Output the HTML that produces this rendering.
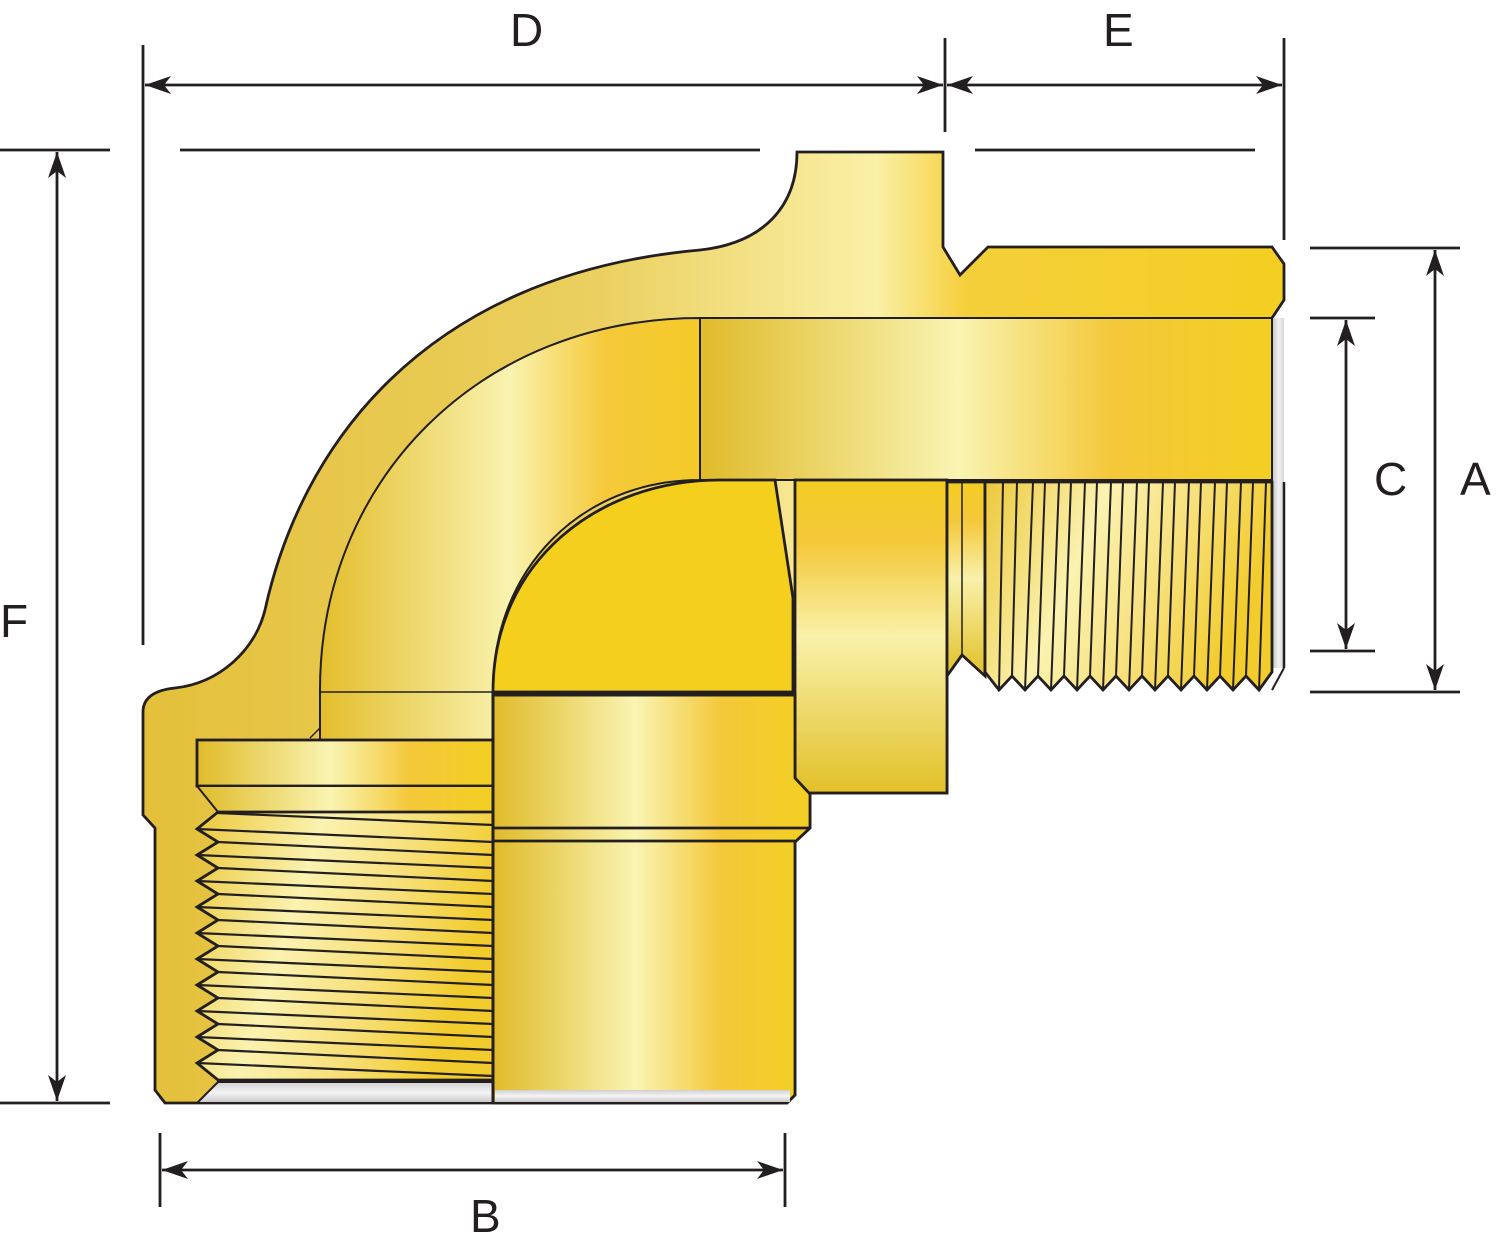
<!DOCTYPE html>
<html><head><meta charset="utf-8"><style>
html,body{margin:0;padding:0;background:#fff;}
svg{display:block;}
text{font-family:"Liberation Sans",sans-serif;font-size:46px;fill:#231f20;}
</style></head><body>
<svg width="1500" height="1246" viewBox="0 0 1500 1246" xmlns="http://www.w3.org/2000/svg">
<defs>
<linearGradient id="gx" x1="0" y1="0" x2="1" y2="0">
<stop offset="0" stop-color="#e0bb2a"/><stop offset="0.45" stop-color="#f9f4b2"/><stop offset="0.72" stop-color="#f4c83a"/><stop offset="1" stop-color="#f3cf22"/>
</linearGradient>
<linearGradient id="gbody" gradientUnits="userSpaceOnUse" x1="140" y1="0" x2="1290" y2="0">
<stop offset="0" stop-color="#e4c03a"/><stop offset="0.4" stop-color="#ebd060"/><stop offset="0.64" stop-color="#faf0a6"/><stop offset="0.72" stop-color="#f5cf3a"/><stop offset="1" stop-color="#f3cf22"/>
</linearGradient>
<linearGradient id="gelb" gradientUnits="userSpaceOnUse" x1="320" y1="0" x2="700" y2="0">
<stop offset="0" stop-color="#e3bd2c"/><stop offset="0.5" stop-color="#f9f3b0"/><stop offset="0.75" stop-color="#f5c93a"/><stop offset="1" stop-color="#f3ca28"/>
</linearGradient>
<linearGradient id="gy" x1="0" y1="0" x2="0" y2="1">
<stop offset="0" stop-color="#f4cd22"/><stop offset="0.2" stop-color="#f4c83a"/><stop offset="0.5" stop-color="#f9f1aa"/><stop offset="1" stop-color="#e2c028"/>
</linearGradient>
<linearGradient id="gth" x1="0" y1="0" x2="1" y2="0.3">
<stop offset="0" stop-color="#ecc83a"/><stop offset="0.4" stop-color="#faf2b0"/><stop offset="0.7" stop-color="#f7e07a"/><stop offset="1" stop-color="#f2cc2c"/>
</linearGradient>
<linearGradient id="ggr" x1="0" y1="0" x2="1" y2="0">
<stop offset="0" stop-color="#c8c8c8"/><stop offset="0.5" stop-color="#f2f2f2"/><stop offset="1" stop-color="#d6d6d6"/>
</linearGradient>
<linearGradient id="ggrv" x1="0" y1="0" x2="0" y2="1">
<stop offset="0" stop-color="#d0d0d0"/><stop offset="0.5" stop-color="#f4f4f4"/><stop offset="1" stop-color="#c8c8c8"/>
</linearGradient>
<marker id="ar" viewBox="0 0 26 18" refX="26" refY="9" markerWidth="26" markerHeight="18" markerUnits="userSpaceOnUse" orient="auto-start-reverse">
<path d="M0,0 L26,9 L0,18 L7,9 Z" fill="#231f20"/>
</marker>
</defs>

<g stroke="#231f20" stroke-width="2.8" fill="none">
<line x1="143" y1="45" x2="143" y2="645"/>
<line x1="945" y1="38" x2="945" y2="132"/>
<line x1="1284" y1="38" x2="1284" y2="240"/>
<line x1="145" y1="85" x2="943" y2="85" marker-start="url(#ar)" marker-end="url(#ar)"/>
<line x1="947" y1="85" x2="1282" y2="85" marker-start="url(#ar)" marker-end="url(#ar)"/>
<line x1="180" y1="150" x2="760" y2="150"/>
<line x1="975" y1="150" x2="1255" y2="150"/>
<line x1="0" y1="150" x2="110" y2="150"/>
<line x1="0" y1="1103" x2="110" y2="1103"/>
<line x1="57" y1="152" x2="57" y2="1101" marker-start="url(#ar)" marker-end="url(#ar)"/>
<line x1="160" y1="1133" x2="160" y2="1207"/>
<line x1="785" y1="1133" x2="785" y2="1207"/>
<line x1="162" y1="1170" x2="783" y2="1170" marker-start="url(#ar)" marker-end="url(#ar)"/>
<line x1="1310" y1="248" x2="1460" y2="248"/>
<line x1="1310" y1="692" x2="1460" y2="692"/>
<line x1="1435" y1="250" x2="1435" y2="690" marker-start="url(#ar)" marker-end="url(#ar)"/>
<line x1="1310" y1="318" x2="1375" y2="318"/>
<line x1="1310" y1="651" x2="1375" y2="651"/>
<line x1="1346" y1="320" x2="1346" y2="649" marker-start="url(#ar)" marker-end="url(#ar)"/>
</g>
<text x="510" y="46">D</text>
<text x="1103" y="46">E</text>
<text x="0" y="637">F</text>
<text x="470" y="1232">B</text>
<text x="1374" y="495">C</text>
<text x="1460" y="495">A</text>

<g stroke="#231f20" stroke-width="2.8" stroke-linejoin="miter">
<path fill="url(#gbody)" d="M797,152 L943,152 L943,247 L960,275 L988,247 L1272,247 L1284,264 L1284,300 L1272,318 L1272,482 L947,482 L947,793 L810,793 L810,828 L795,842 L795,1095 L787,1103 L165,1103 L155,1090 L155,828 L143,815 L143,712 C143,697 156,690 175,688 C220,683 255,650 265,610 C300,450 420,275 700,250 C765,243 797,205 797,152 Z"/>
<path fill="url(#gelb)" stroke-width="2" d="M320,740 L320,690 C320,480 480,318 700,318 L700,480 C580,480 493,570 493,690 L493,740 Z"/>
<line x1="320" y1="692" x2="493" y2="692" stroke-width="1.5"/>
<line x1="310" y1="738" x2="320" y2="728" stroke-width="1.5"/>
<rect x="700" y="318" width="572" height="162" fill="url(#gx)" stroke-width="2"/>
<rect x="1273" y="318" width="11" height="164" fill="url(#ggr)" stroke="none"/>
<rect x="795" y="480" width="152" height="313" fill="url(#gy)"/>
<rect x="1273" y="482" width="11" height="186" fill="url(#ggr)" stroke="none"/>
<path d="M1284,668 L1272,690" stroke-width="2" fill="none"/>
<line x1="1284" y1="482" x2="1284" y2="668" stroke-width="2.5"/>
<path fill="url(#gy)" d="M947,482 L985,482 L985,676 L962,655 L947,676 Z"/>
<line x1="962" y1="482" x2="962" y2="655" stroke-width="1.5"/>
<path fill="url(#gth)" d="M985,482 L1272,482 L1272,672 L1259,690 L1246,676 L1233,690 L1220,676 L1207,690 L1194,676 L1181,690 L1168,676 L1155,690 L1142,676 L1129,690 L1116,676 L1103,690 L1090,676 L1077,690 L1064,676 L1051,690 L1038,676 L1025,690 L1012,676 L999,690 L985,672 Z"/>
<g stroke-width="2">
<line x1="999" y1="690" x2="1003" y2="482"/><line x1="1012" y1="676" x2="1017" y2="482"/>
<line x1="1025" y1="690" x2="1033" y2="482"/><line x1="1038" y1="676" x2="1045" y2="482"/>
<line x1="1051" y1="690" x2="1059" y2="482"/><line x1="1064" y1="676" x2="1071" y2="482"/>
<line x1="1077" y1="690" x2="1085" y2="482"/><line x1="1090" y1="676" x2="1097" y2="482"/>
<line x1="1103" y1="690" x2="1111" y2="482"/><line x1="1116" y1="676" x2="1123" y2="482"/>
<line x1="1129" y1="690" x2="1137" y2="482"/><line x1="1142" y1="676" x2="1149" y2="482"/>
<line x1="1155" y1="690" x2="1163" y2="482"/><line x1="1168" y1="676" x2="1175" y2="482"/>
<line x1="1181" y1="690" x2="1189" y2="482"/><line x1="1194" y1="676" x2="1201" y2="482"/>
<line x1="1207" y1="690" x2="1215" y2="482"/><line x1="1220" y1="676" x2="1227" y2="482"/>
<line x1="1233" y1="690" x2="1241" y2="482"/><line x1="1246" y1="676" x2="1253" y2="482"/>
<line x1="1259" y1="690" x2="1266" y2="482"/>
</g>
<path fill="#f5cf1e" d="M493,692 C493,560 600,480 720,480 L775,480 L793,598 L793,692 Z"/>
<path fill="url(#gx)" d="M493,694 L795,694 L795,778 L810,794 L810,828 L795,842 L795,1095 L787,1103 L493,1103 Z"/>
<line x1="493" y1="694" x2="795" y2="694" stroke-width="5"/>
<line x1="493" y1="828" x2="810" y2="828"/>
<line x1="493" y1="841" x2="795" y2="841"/>
<rect x="495" y="1090" width="295" height="12" fill="url(#ggrv)" stroke="none"/>
<rect x="197" y="740" width="296" height="46" fill="url(#gx)"/>
<path fill="url(#gx)" d="M197,786 L493,786 L493,812 L218,812 Z" stroke-width="2"/>
<path fill="url(#gth)" d="M218,812 L493,812 L493,1080 L218,1080 L197,1063 L218,1050 L197,1037 L218,1024 L197,1011 L218,998 L197,985 L218,972 L197,959 L218,946 L197,933 L218,920 L197,907 L218,894 L197,881 L218,868 L197,855 L218,842 L197,829 Z"/>
<path fill="url(#ggrv)" d="M218,1082 L493,1082 L493,1103 L197,1103 Z" stroke-width="2"/>
<g stroke-width="2.2">
<line x1="218" y1="813" x2="493" y2="825"/>
<line x1="197" y1="829" x2="493" y2="842"/><line x1="218" y1="842" x2="493" y2="855"/>
<line x1="197" y1="855" x2="493" y2="868"/><line x1="218" y1="868" x2="493" y2="881"/>
<line x1="197" y1="881" x2="493" y2="894"/><line x1="218" y1="894" x2="493" y2="907"/>
<line x1="197" y1="907" x2="493" y2="920"/><line x1="218" y1="920" x2="493" y2="933"/>
<line x1="197" y1="933" x2="493" y2="946"/><line x1="218" y1="946" x2="493" y2="959"/>
<line x1="197" y1="959" x2="493" y2="972"/><line x1="218" y1="972" x2="493" y2="985"/>
<line x1="197" y1="985" x2="493" y2="998"/><line x1="218" y1="998" x2="493" y2="1011"/>
<line x1="197" y1="1011" x2="493" y2="1024"/><line x1="218" y1="1024" x2="493" y2="1037"/>
<line x1="197" y1="1037" x2="493" y2="1050"/><line x1="218" y1="1050" x2="493" y2="1063"/>
<line x1="197" y1="1063" x2="493" y2="1076"/>
</g>
<line x1="493" y1="692" x2="493" y2="1103" stroke-width="3"/>
</g>
</svg>
</body></html>
